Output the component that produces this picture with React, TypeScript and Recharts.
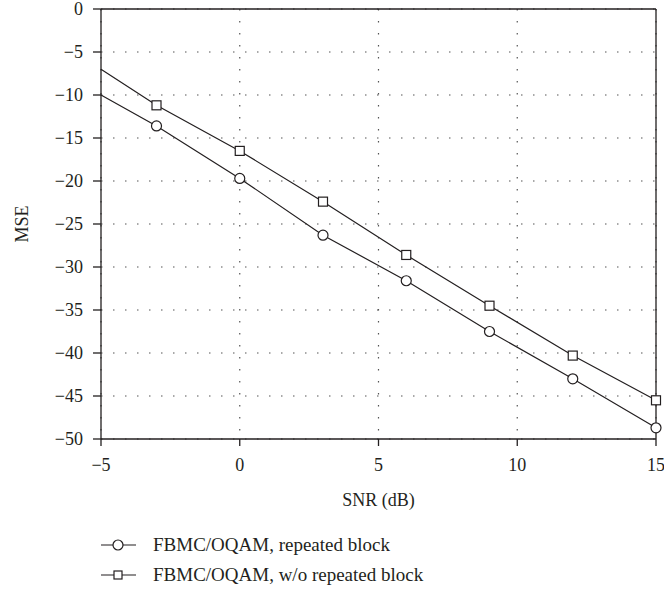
import React from "react";
import { LineChart, Line, XAxis, YAxis, CartesianGrid, ReferenceLine } from "recharts";

// SNR (dB) sample points; -5 is only the line start (no marker)
const snr = [-5, -3, 0, 3, 6, 9, 12, 15];
const mseRepeated = [-10, -13.6, -19.7, -26.3, -31.6, -37.5, -43, -48.7];
const mseNoRepeat = [-7, -11.2, -16.5, -22.4, -28.6, -34.5, -40.3, -45.5];
const xTicks = [-5, 0, 5, 10, 15];
const yTicks = [0, -5, -10, -15, -20, -25, -30, -35, -40, -45, -50];
const seriesNames = ["FBMC/OQAM, repeated block", "FBMC/OQAM, w/o repeated block"];

const chartData = snr.map((s, i) => ({ snr: s, rep: mseRepeated[i], norep: mseNoRepeat[i] }));

const FONT = "'Liberation Serif', 'DejaVu Serif', serif";
const INK = "#231f20";
const minus = (v: number) => String(v).replace("-", "\u2212");

const CircleDot = (props: any) => {
  const { cx, cy, payload, index } = props;
  if (payload.snr === -5) return <g key={`c-${index}`} />;
  return <circle key={`c-${index}`} cx={cx} cy={cy} r={5} fill="#fff" stroke={INK} strokeWidth={1.2} />;
};

const SquareDot = (props: any) => {
  const { cx, cy, payload, index } = props;
  if (payload.snr === -5) return <g key={`s-${index}`} />;
  return <rect key={`s-${index}`} x={cx - 4.5} y={cy - 4.5} width={9} height={9} fill="#fff" stroke={INK} strokeWidth={1.2} />;
};

const ChartLegend = () => (
  <div style={{ position: "absolute", top: 530, left: 101, fontFamily: FONT, fontSize: 19, color: INK }}>
    {seriesNames.map((name, i) => (
      <div key={name} style={{ display: "flex", alignItems: "center", height: 30, whiteSpace: "nowrap" }}>
        <svg width={36} height={14} style={{ marginRight: 16 }}>
          <line x1={0} y1={7} x2={35} y2={7} stroke={INK} strokeWidth={1.2} />
          {i === 0 ? (
            <circle cx={17} cy={7} r={5} fill="#fff" stroke={INK} strokeWidth={1.2} />
          ) : (
            <rect x={13} y={3} width={8} height={8} fill="#fff" stroke={INK} strokeWidth={1.2} />
          )}
        </svg>
        <span>{name}</span>
      </div>
    ))}
  </div>
);

export default function App() {
  return (
    <div style={{ width: 648, height: 575 }}>
      <div style={{ position: "fixed", top: 0, left: 0, width: 664, height: 591, background: "#fff" }}>
        <LineChart width={664} height={591} data={chartData} margin={{ top: 9, right: 8, left: 0, bottom: 82 }}>
          <CartesianGrid stroke="#555" strokeDasharray="1.5 10.5" strokeWidth={1.2} />
          <XAxis
            dataKey="snr"
            type="number"
            domain={[-5, 15]}
            ticks={xTicks}
            interval={0}
            axisLine={{ stroke: INK, strokeWidth: 1.3 }}
            tickLine={{ stroke: INK, strokeWidth: 1.3 }}
            tickSize={7}
            tickMargin={12}
            tick={{ fontSize: 18, fill: INK, fontFamily: FONT }}
            tickFormatter={minus}
            label={{ value: "SNR (dB)", position: "insideBottom", offset: 3, style: { fontSize: 18, fill: INK, fontFamily: FONT } }}
            height={70}
          />
          <YAxis
            type="number"
            domain={[-50, 0]}
            ticks={yTicks}
            interval={0}
            width={101}
            axisLine={{ stroke: INK, strokeWidth: 1.3 }}
            tickLine={{ stroke: INK, strokeWidth: 1.3 }}
            tickSize={8}
            tickMargin={10}
            tick={{ fontSize: 18, fill: INK, fontFamily: FONT }}
            tickFormatter={minus}
            label={{ value: "MSE", angle: -90, position: "insideLeft", offset: 22, style: { fontSize: 18, fill: INK, fontFamily: FONT, textAnchor: "middle" } }}
          />
          <ReferenceLine y={0} stroke={INK} strokeWidth={1.3} />
          <ReferenceLine x={15} stroke={INK} strokeWidth={1.3} />
          <Line
            type="linear"
            dataKey="rep"
            name={seriesNames[0]}
            stroke={INK}
            strokeWidth={1.2}
            dot={CircleDot}
            isAnimationActive={false}
          />
          <Line
            type="linear"
            dataKey="norep"
            name={seriesNames[1]}
            stroke={INK}
            strokeWidth={1.2}
            dot={SquareDot}
            isAnimationActive={false}
          />
        </LineChart>
        <ChartLegend />
      </div>
    </div>
  );
}
